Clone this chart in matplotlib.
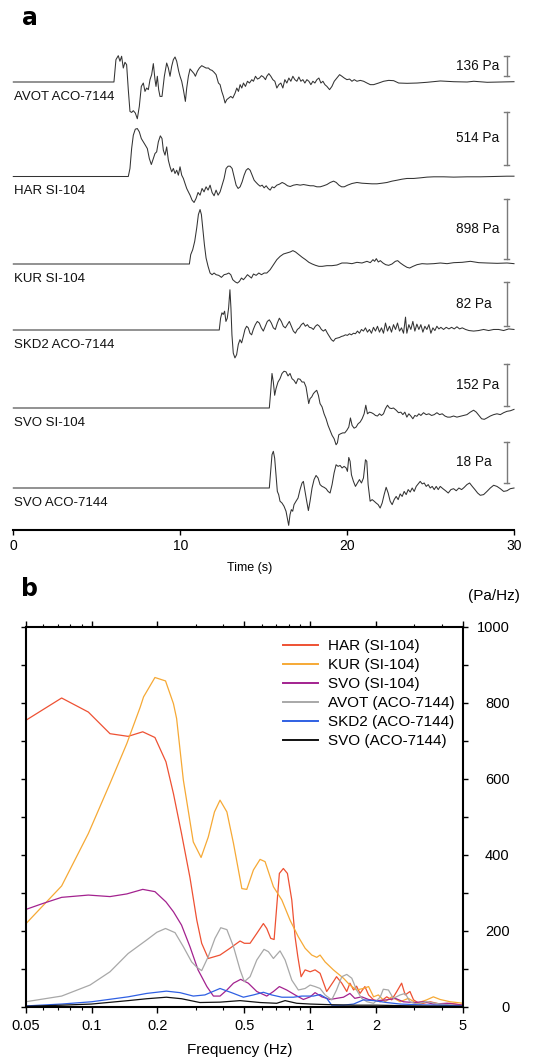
import matplotlib
matplotlib.use("Agg")
import matplotlib.pyplot as plt
from matplotlib.ticker import FixedLocator, NullFormatter

plt.rcParams['font.family'] = ['Liberation Sans', 'DejaVu Sans']

# ---------------- Panel a : pressure waveforms (time s, pressure Pa) ----------------
trace_names = ['AVOT ACO-7144', 'HAR SI-104', 'KUR SI-104', 'SKD2 ACO-7144', 'SVO SI-104', 'SVO ACO-7144']
scale_pa = [136, 514, 898, 82, 152, 18]

avot = [(0, 0), (6.03, 0), (6.15, 152), (6.29, 179), (6.39, 141), (6.49, 175), (6.59, 95), (6.69, 134), (6.79, 118),
        (6.89, -52), (6.99, -200), (7.09, -207), (7.19, -195), (7.31, -211), (7.43, -250), (7.55, -166), (7.67, -30),
        (7.79, -7), (7.89, -64), (7.99, -41), (8.09, -52), (8.19, 16), (8.29, 50), (8.39, 125), (8.49, 16), (8.55, -30),
        (8.63, 39), (8.71, -52), (8.79, -98), (8.91, -98), (9.05, 39), (9.19, 129), (9.29, 95), (9.39, 39), (9.49, 107),
        (9.59, 152), (9.69, 170), (9.79, 141), (9.91, 73), (9.99, 39), (10.09, 5), (10.19, -52), (10.31, -132),
        (10.39, -41), (10.49, 39), (10.59, 89), (10.71, 73), (10.83, 57), (10.91, 39), (11.03, 73), (11.15, 95),
        (11.29, 111), (11.43, 102), (11.55, 95), (11.69, 95), (11.79, 84), (11.91, 79), (12.03, 66), (12.15, 50),
        (12.29, -7), (12.39, -18), (12.49, -64), (12.59, -98), (12.69, -143), (12.79, -120), (12.91, -109),
        (13.03, -98), (13.15, -109), (13.29, -75), (13.39, -41), (13.49, -64), (13.59, -18), (13.69, -41), (13.79, -7),
        (13.91, -30), (14.03, 5), (14.15, -7), (14.29, 16), (14.39, 5), (14.51, 39), (14.63, 20), (14.75, 27),
        (14.87, 43), (14.99, 34), (15.11, 16), (15.19, 39), (15.31, 57), (15.43, 39), (15.55, 16), (15.67, 5),
        (15.79, -41), (15.91, -18), (16.03, -7), (16.15, -41), (16.27, 16), (16.39, -7), (16.51, 27), (16.63, 5),
        (16.75, 39), (16.87, 16), (16.99, 5), (17.11, 34), (17.23, 5), (17.35, 16), (17.47, -7), (17.59, 16),
        (17.71, 5), (17.83, -18), (17.95, 5), (18.07, -7), (18.19, 16), (18.31, 27), (18.43, -7), (18.55, 5),
        (18.67, -18), (18.79, -30), (18.95, -52), (19.09, -30), (19.23, 5), (19.39, 27), (19.55, 50), (19.69, 39),
        (19.83, 27), (19.99, 16), (20.15, 20), (20.29, 5), (20.43, 16), (20.59, 5), (20.79, 11), (20.99, 5),
        (21.19, -7), (21.39, -18), (21.59, -18), (21.89, -7), (22.19, 5), (22.49, 11), (22.79, 9), (23.09, -7),
        (23.59, -9), (24.19, -7), (24.79, -2), (25.59, 7), (26.39, 2), (27.19, 0), (27.59, 5), (28.39, -2),
        (29.19, 0), (30.0, 2)]

har = [(0, 0), (6.89, 0), (6.99, 78), (7.09, 271), (7.19, 400), (7.31, 459), (7.43, 465), (7.55, 433), (7.67, 368),
       (7.79, 336), (7.91, 304), (8.03, 271), (8.15, 174), (8.27, 116), (8.39, 174), (8.49, 223), (8.59, 239),
       (8.69, 336), (8.81, 394), (8.91, 368), (8.99, 255), (9.09, 207), (9.19, 287), (9.29, 158), (9.39, 94),
       (9.49, 45), (9.59, 78), (9.69, 29), (9.79, 61), (9.89, 13), (9.99, 94), (10.09, 13), (10.19, -19),
       (10.29, -68), (10.39, -116), (10.49, -149), (10.59, -181), (10.71, -229), (10.83, -252), (10.95, -213),
       (11.07, -155), (11.19, -181), (11.31, -116), (11.43, -149), (11.55, -100), (11.67, -132), (11.79, -84),
       (11.91, -155), (12.03, -187), (12.15, -132), (12.27, -181), (12.39, -149), (12.51, -84), (12.63, -19),
       (12.75, 78), (12.87, 100), (12.99, 100), (13.11, 78), (13.23, -3), (13.35, -84), (13.47, -116), (13.59, -100),
       (13.71, -52), (13.83, 13), (13.95, 61), (14.07, 78), (14.19, 61), (14.31, 13), (14.43, -36), (14.55, -58),
       (14.67, -78), (14.79, -94), (14.91, -84), (15.03, -110), (15.15, -90), (15.27, -116), (15.39, -132),
       (15.51, -100), (15.63, -110), (15.79, -84), (15.95, -74), (16.11, -58), (16.27, -71), (16.43, -90),
       (16.59, -97), (16.79, -84), (16.99, -78), (17.19, -84), (17.39, -78), (17.59, -84), (17.79, -90),
       (17.99, -90), (18.19, -100), (18.39, -100), (18.59, -90), (18.79, -78), (18.99, -58), (19.19, -45),
       (19.35, -58), (19.51, -84), (19.67, -100), (19.83, -100), (20.03, -84), (20.29, -68), (20.59, -58),
       (20.89, -65), (21.19, -68), (21.49, -71), (21.79, -71), (22.09, -65), (22.39, -58), (22.69, -45),
       (22.99, -36), (23.29, -26), (23.59, -19), (23.99, -19), (24.39, -13), (24.79, -6), (25.19, -3), (25.79, -3),
       (26.39, -6), (27.19, -3), (27.99, -3), (28.79, 0), (29.59, 3), (30.0, 3)]

kur = [(0, 0), (10.55, 0), (10.63, 140), (10.75, 215), (10.87, 340), (10.99, 540), (11.09, 740), (11.19, 815),
       (11.27, 740), (11.35, 540), (11.45, 290), (11.55, 90), (11.67, -35), (11.79, -135), (11.91, -160),
       (12.03, -135), (12.15, -160), (12.31, -170), (12.47, -200), (12.63, -160), (12.79, -150), (12.91, -135),
       (13.03, -160), (13.15, -235), (13.31, -270), (13.43, -285), (13.55, -260), (13.67, -210), (13.79, -235),
       (13.91, -200), (14.03, -160), (14.15, -185), (14.27, -210), (14.39, -150), (14.55, -170), (14.71, -135),
       (14.87, -160), (15.03, -135), (15.19, -135), (15.39, -85), (15.59, -10), (15.79, 65), (15.99, 115),
       (16.19, 150), (16.39, 165), (16.59, 180), (16.75, 200), (16.91, 180), (17.11, 140), (17.31, 100),
       (17.51, 65), (17.71, 25), (17.91, 0), (18.11, -20), (18.31, -35), (18.51, -35), (18.79, -25), (19.09, -25),
       (19.39, -15), (19.69, 15), (19.99, 15), (20.29, 5), (20.59, 25), (20.89, 15), (21.19, 40), (21.39, 20),
       (21.55, 65), (21.65, 40), (21.75, 80), (21.87, 30), (21.99, 50), (22.15, 15), (22.31, -10), (22.49, -20),
       (22.69, 0), (22.89, 40), (23.03, 50), (23.19, 15), (23.39, -20), (23.59, -50), (23.75, -60), (23.95, -35),
       (24.19, -10), (24.49, 5), (24.79, 0), (25.19, 5), (25.59, 15), (25.99, 5), (26.39, 20), (26.89, 25),
       (27.39, 40), (27.89, 20), (28.39, 15), (28.99, 10), (29.59, 15), (30.0, 5)]

skd2 = [(0, 0), (12.34, 0), (12.42, 22), (12.50, 32), (12.58, 29), (12.66, 35), (12.74, 16), (12.82, 22),
        (12.90, 41), (12.98, 75), (13.04, 41), (13.10, -9), (13.18, -43), (13.28, -52), (13.38, -46), (13.48, -27),
        (13.58, -18), (13.68, -24), (13.78, -12), (13.88, 1), (13.98, 7), (14.08, 4), (14.18, -6), (14.28, -9),
        (14.38, 1), (14.50, 10), (14.62, 16), (14.74, 13), (14.86, 4), (14.98, -2), (15.10, 7), (15.22, 16),
        (15.34, 19), (15.46, 13), (15.58, 4), (15.70, 1), (15.82, 13), (15.94, 22), (16.06, 16), (16.18, 7),
        (16.30, 4), (16.42, 10), (16.54, 16), (16.66, 7), (16.78, -2), (16.90, -6), (17.02, 1), (17.14, 4),
        (17.26, 10), (17.38, 13), (17.50, 7), (17.62, 10), (17.74, 5), (17.86, 4), (17.98, 1), (18.10, 7),
        (18.22, 10), (18.34, 7), (18.46, 1), (18.58, -2), (18.70, 1), (18.82, -6), (18.94, -12), (19.06, -18),
        (19.18, -21), (19.30, -16), (19.42, -15), (19.54, -14), (19.66, -12), (19.78, -11), (19.90, -9),
        (20.02, -10), (20.14, -7), (20.26, -9), (20.38, -6), (20.50, -7), (20.62, -2), (20.74, -6), (20.86, 1),
        (20.98, -2), (21.10, 4), (21.22, -4), (21.34, 1), (21.46, -6), (21.58, 5), (21.70, -2), (21.82, 7),
        (21.94, -4), (22.06, 4), (22.18, -6), (22.30, 13), (22.42, -2), (22.54, 7), (22.66, -4), (22.78, 10),
        (22.90, 1), (23.02, 13), (23.14, -2), (23.26, 4), (23.38, -6), (23.50, 24), (23.58, -6), (23.70, 10),
        (23.82, 1), (23.94, 16), (24.06, -2), (24.18, 11), (24.30, 1), (24.42, 10), (24.54, -4), (24.66, 7),
        (24.78, 1), (24.90, 10), (25.02, -6), (25.14, 4), (25.26, -1), (25.38, 7), (25.50, 2), (25.62, 5),
        (25.78, 1), (25.94, 5), (26.10, 2), (26.26, 5), (26.42, 2), (26.58, 6), (26.74, 2), (26.90, 4),
        (27.10, 1), (27.30, -1), (27.58, -2), (27.88, -1), (28.18, 1), (28.48, -1), (28.78, 1), (29.08, 1),
        (29.38, -1), (29.68, 2), (30.0, 1)]

svo_si = [(0, 0), (15.34, 0), (15.42, 58), (15.50, 125), (15.58, 94), (15.66, 46), (15.74, 70), (15.86, 94),
          (15.98, 106), (16.10, 125), (16.22, 133), (16.34, 131), (16.46, 116), (16.58, 125), (16.70, 106),
          (16.82, 100), (16.94, 88), (17.06, 106), (17.18, 104), (17.30, 94), (17.42, 94), (17.54, 76), (17.62, 46),
          (17.70, 16), (17.78, 34), (17.88, 40), (17.98, 52), (18.10, 60), (18.18, 64), (18.28, 46), (18.38, 16),
          (18.50, 4), (18.62, -21), (18.74, -39), (18.86, -63), (18.98, -81), (19.10, -99), (19.22, -111),
          (19.34, -133), (19.42, -126), (19.50, -97), (19.62, -93), (19.74, -90), (19.86, -90), (19.98, -81),
          (20.10, -69), (20.20, -36), (20.30, -63), (20.42, -73), (20.54, -69), (20.66, -57), (20.78, -51),
          (20.90, -39), (21.02, -21), (21.12, 10), (21.22, -21), (21.34, -15), (21.46, -17), (21.58, -21),
          (21.70, -27), (21.82, -29), (21.94, -21), (22.06, -27), (22.18, -21), (22.30, -2), (22.42, 10),
          (22.54, 0), (22.66, -2), (22.78, 0), (22.94, -8), (23.08, -17), (23.22, -15), (23.34, -24), (23.46, -15),
          (23.58, -33), (23.70, -21), (23.82, -29), (23.94, -39), (24.06, -27), (24.18, -30), (24.30, -21),
          (24.42, -27), (24.58, -17), (24.74, -24), (24.90, -21), (25.06, -27), (25.22, -24), (25.38, -17),
          (25.54, -24), (25.70, -21), (25.86, -29), (26.02, -33), (26.18, -33), (26.38, -29), (26.58, -33),
          (26.78, -30), (26.98, -27), (27.18, -24), (27.38, -15), (27.58, -8), (27.74, -15), (27.90, -27),
          (28.06, -39), (28.22, -41), (28.38, -36), (28.58, -29), (28.78, -24), (28.98, -21), (29.18, -24),
          (29.38, -17), (29.58, -12), (29.78, -10), (30.0, -5)]

svo_aco = [(0, 0), (15.34, 0), (15.42, 7.3), (15.50, 14.6), (15.58, 16.1), (15.66, 13.1), (15.74, 5.8),
           (15.82, -1.5), (15.90, -2.9), (15.98, -5.8), (16.10, -6.6), (16.22, -8.0), (16.34, -10.2),
           (16.50, -16.4), (16.58, -11.7), (16.66, -9.5), (16.74, -10.2), (16.82, -7.3), (16.94, -5.8),
           (17.06, -4.4), (17.18, -0.7), (17.30, 2.2), (17.38, 2.9), (17.48, -1.5), (17.58, -5.8), (17.68, -9.9),
           (17.78, -5.8), (17.90, 0), (18.02, 3.7), (18.14, 5.5), (18.26, 4.4), (18.38, 1.5), (18.50, 0.7),
           (18.62, 0.3), (18.74, -0.3), (18.86, -1.5), (18.98, -2.2), (19.10, 1.5), (19.22, 6.6), (19.34, 10.2),
           (19.46, 9.5), (19.58, 9.9), (19.70, 8.8), (19.82, 9.5), (19.94, 8.8), (20.02, 7.3), (20.10, 13.4),
           (20.18, 11.7), (20.26, 5.8), (20.38, 2.9), (20.50, 0.7), (20.62, 2.2), (20.74, 3.7), (20.86, 2.2),
           (20.98, 4.4), (21.10, 12.4), (21.18, 11.7), (21.26, 1.5), (21.38, -5.8), (21.50, -5.1), (21.62, -5.8),
           (21.74, -6.6), (21.86, -7.3), (21.98, -8.8), (22.10, -6.6), (22.22, -2.9), (22.34, 0.3), (22.46, -2.2),
           (22.58, -5.8), (22.70, -7.3), (22.82, -5.1), (22.94, -3.7), (23.06, -5.1), (23.18, -2.6), (23.30, -3.7),
           (23.42, -1.5), (23.54, -2.9), (23.66, -0.7), (23.78, -1.8), (23.90, 0), (24.02, -1.5), (24.14, 0.7),
           (24.26, 1.8), (24.38, 2.9), (24.50, 1.8), (24.62, 2.2), (24.74, 0.7), (24.86, 1.5), (24.98, 0),
           (25.10, 0.7), (25.22, -0.7), (25.34, 0.7), (25.46, -0.7), (25.58, 0.7), (25.74, -0.3), (25.90, -1.2),
           (26.06, -2.2), (26.22, -0.7), (26.38, -0.3), (26.54, -1.2), (26.70, 0), (26.86, -0.7), (27.02, 0.3),
           (27.18, 1.5), (27.34, 2.2), (27.50, 0.7), (27.66, -0.7), (27.82, -2.2), (27.98, -3.2), (28.18, -2.9),
           (28.38, -1.5), (28.58, 0), (28.78, 1.2), (28.98, 0.7), (29.18, -0.3), (29.38, -1.5), (29.58, -1.2),
           (29.78, -0.3), (30.0, 0)]

waveforms = [avot, har, kur, skd2, svo_si, svo_aco]

# ---------------- Panel b : amplitude spectra (Hz, Pa/Hz) ----------------
spec_labels = ['HAR (SI-104)', 'KUR (SI-104)', 'SVO (SI-104)', 'AVOT (ACO-7144)', 'SKD2 (ACO-7144)', 'SVO (ACO-7144)']

har_f = [0.05, 0.073, 0.0967, 0.1215, 0.147, 0.1715, 0.195, 0.219, 0.237, 0.258, 0.282, 0.303, 0.319, 0.342, 0.387,
         0.430, 0.478, 0.50, 0.531, 0.570, 0.611, 0.633, 0.660, 0.684, 0.723, 0.754, 0.787, 0.824, 0.853, 0.878,
         0.909, 0.948, 1.0, 1.053, 1.11, 1.19, 1.233, 1.277, 1.32, 1.395, 1.47, 1.52, 1.58, 1.63, 1.69, 1.78, 1.85,
         1.95, 2.09, 2.24, 2.36, 2.49, 2.62, 2.72, 2.86, 2.97, 3.18, 3.54, 3.93, 4.37, 5.0]
har_a = [754, 813, 776, 719, 712, 724, 709, 645, 561, 456, 340, 228, 167, 127, 136, 154, 173, 167, 167, 193, 219, 206,
         180, 177, 351, 364, 351, 281, 184, 132, 79, 97, 92, 97, 88, 40, 53, 66, 79, 62, 40, 62, 44, 54, 35, 53, 31,
         18, 13, 26, 18, 40, 62, 31, 40, 18, 7, 13, 7, 9, 4]

kur_f = [0.05, 0.073, 0.0967, 0.1215, 0.145, 0.167, 0.173, 0.195, 0.218, 0.237, 0.245, 0.263, 0.292, 0.317, 0.342,
         0.365, 0.387, 0.416, 0.446, 0.487, 0.513, 0.550, 0.590, 0.622, 0.679, 0.742, 0.809, 0.883, 0.948, 1.017,
         1.072, 1.11, 1.17, 1.277, 1.42, 1.52, 1.63, 1.75, 1.85, 1.95, 2.05, 2.20, 2.36, 2.58, 2.81, 3.07, 3.41,
         3.66, 3.93, 4.37, 4.68, 5.0]
kur_a = [218, 318, 456, 588, 693, 789, 816, 867, 858, 798, 759, 597, 434, 393, 447, 513, 544, 513, 430, 311, 309,
         360, 388, 382, 316, 281, 228, 184, 154, 136, 130, 136, 118, 97, 75, 57, 44, 48, 53, 26, 31, 13, 26, 13, 22,
         9, 18, 26, 19, 13, 11, 9]

svo_f = [0.05, 0.06, 0.073, 0.0967, 0.1215, 0.145, 0.1715, 0.195, 0.219, 0.237, 0.258, 0.282, 0.307, 0.337, 0.361,
         0.387, 0.416, 0.446, 0.481, 0.521, 0.570, 0.633, 0.679, 0.723, 0.781, 0.853, 0.931, 1.0, 1.053, 1.13, 1.233,
         1.32, 1.42, 1.52, 1.60, 1.72, 1.85, 2.02, 2.24, 2.45, 2.67, 2.97, 3.30, 3.66, 4.22, 5.0]
svo_a = [256, 272, 288, 294, 290, 297, 309, 303, 276, 250, 215, 158, 97, 53, 28, 28, 44, 62, 72, 62, 40, 28, 40, 53,
         44, 31, 19, 26, 37, 26, 19, 22, 25, 35, 22, 26, 19, 16, 18, 22, 13, 11, 13, 7, 9, 4]

avot_f = [0.05, 0.073, 0.0984, 0.1215, 0.147, 0.179, 0.199, 0.218, 0.241, 0.263, 0.287, 0.303, 0.319, 0.342, 0.367,
          0.39, 0.416, 0.446, 0.478, 0.50, 0.531, 0.570, 0.615, 0.644, 0.679, 0.728, 0.768, 0.824, 0.883, 0.948, 1.0,
          1.053, 1.11, 1.17, 1.255, 1.32, 1.395, 1.47, 1.55, 1.63, 1.72, 1.82, 1.95, 2.09, 2.16, 2.28, 2.40, 2.58,
          2.72, 2.86, 3.07, 3.41, 3.93, 5.0]
avot_a = [13, 28, 57, 92, 140, 176, 196, 206, 195, 158, 118, 104, 95, 132, 180, 208, 203, 158, 97, 66, 79, 123, 151,
          145, 127, 147, 123, 70, 44, 48, 57, 53, 48, 31, 18, 44, 79, 85, 75, 44, 22, 13, 9, 25, 46, 44, 22, 31, 35,
          13, 7, 13, 7, 2]

skd_f = [0.05, 0.073, 0.1, 0.147, 0.179, 0.22, 0.254, 0.292, 0.330, 0.387, 0.437, 0.495, 0.55, 0.611, 0.667, 0.742,
         0.838, 0.916, 1.035, 1.11, 1.19, 1.255, 1.42, 1.58, 1.75, 1.95, 2.24, 2.58, 3.18, 3.93, 5.0]
skd_a = [2, 7, 13, 26, 35, 41, 37, 28, 31, 48, 37, 25, 31, 38, 31, 25, 25, 28, 28, 32, 22, 4, 4, 7, 18, 16, 11, 7, 5,
         4, 2]

svoaco_f = [0.05, 0.073, 0.1, 0.147, 0.179, 0.22, 0.258, 0.313, 0.387, 0.478, 0.59, 0.703, 0.768, 0.868, 1.0, 1.277,
            1.58, 2.02, 3.07, 5.0]
svoaco_a = [1, 4, 7, 16, 21, 25, 21, 11, 12, 16, 11, 9, 16, 9, 7, 5, 4, 4, 2, 1]

spectra = [(har_f, har_a), (kur_f, kur_a), (svo_f, svo_a), (avot_f, avot_a), (skd_f, skd_a), (svoaco_f, svoaco_a)]
spec_colors = ['#ee5133', '#f6a935', '#a3228f', '#a8a8a8', '#2f60e3', '#111111']

freq_ticks = [0.05, 0.1, 0.2, 0.5, 1, 2, 5]
freq_ticklabels = ['0.05', '0.1', '0.2', '0.5', '1', '2', '5']
freq_minor = [0.06, 0.07, 0.08, 0.09, 0.3, 0.4, 0.6, 0.7, 0.8, 0.9, 3, 4]
amp_ticks = [0, 200, 400, 600, 800, 1000]

# ---------------- layout (pixel units of the 544x1059 figure) ----------------
W, H = 544, 1059
fig = plt.figure(figsize=(W / 100, H / 100), dpi=100)

def fx(px):
    return px / W

def fy(py):
    return 1 - py / H

# panel a axes: y data = pixel rows
a_left, a_right, a_top, a_bot = 13.3, 514.0, 30.0, 530.0
axa = fig.add_axes([fx(a_left), fy(a_bot), (a_right - a_left) / W, (a_bot - a_top) / H])
axa.set_xlim(0, 30)
axa.set_ylim(a_bot, a_top)
for s in ['left', 'right', 'top']:
    axa.spines[s].set_visible(False)
axa.spines['bottom'].set_linewidth(1.5)
axa.set_yticks([])
axa.set_xticks([0, 10, 20, 30])
axa.tick_params(axis='x', direction='out', length=3.6, width=1.0, labelsize=10, pad=3.0)

baseline_px = [82, 176.5, 264, 330, 408, 488]
gain_px = [20 / 136, 53 / 514, 60 / 898, 44 / 82, 42 / 152, 41 / 18]
bar_bottom_px = [76, 165, 259, 326, 406, 483]
bar_t = 29.56
cap_half = 0.15
label_t = 0.05
scale_label_t = 26.5

for name, wf, base, g, bb, pa in zip(trace_names, waveforms, baseline_px, gain_px, bar_bottom_px, scale_pa):
    t = [p[0] for p in wf]
    v = [base - p[1] * g for p in wf]
    axa.plot(t, v, color='#333333', lw=0.75, solid_joinstyle='round', clip_on=False)
    axa.text(label_t, base + 15, name, ha='left', va='center', fontsize=9.5, color='#111111')
    top = bb - pa * g
    axa.plot([bar_t, bar_t], [bb, top], color='#7a7a7a', lw=1.0)
    axa.plot([bar_t - cap_half, bar_t + cap_half], [bb, bb], color='#7a7a7a', lw=1.0)
    axa.plot([bar_t - cap_half, bar_t + cap_half], [top, top], color='#7a7a7a', lw=1.0)
    axa.text(scale_label_t, (bb + top) / 2, f'{pa} Pa', ha='left', va='center', fontsize=9.8, color='#111111')

fig.text(fx(250), fy(568), 'Time (s)', ha='center', va='center', fontsize=9)
fig.text(fx(22), fy(25), 'a', ha='left', va='baseline', fontsize=17, fontweight='bold', family='DejaVu Sans')

# panel b axes
b_left, b_right, b_top, b_bot = 25.7, 463.0, 627.0, 1006.7
axb = fig.add_axes([fx(b_left), fy(b_bot), (b_right - b_left) / W, (b_bot - b_top) / H])
for (f, a), c, lab in zip(spectra, spec_colors, spec_labels):
    axb.plot(f, a, color=c, lw=0.9, label=lab)
axb.set_xscale('log')
axb.set_xlim(0.05, 5)
axb.set_ylim(0, 1000)
axb.xaxis.set_major_locator(FixedLocator(freq_ticks))
axb.set_xticklabels(freq_ticklabels)
axb.xaxis.set_minor_locator(FixedLocator(freq_minor))
axb.xaxis.set_minor_formatter(NullFormatter())
axb.yaxis.set_major_locator(FixedLocator(amp_ticks))
axb.yaxis.set_minor_locator(FixedLocator([100, 300, 500, 700, 900]))
for s in axb.spines.values():
    s.set_linewidth(1.5)
axb.tick_params(axis='x', which='major', direction='out', top=True, bottom=True, length=4.0, width=1.0,
                labelsize=10.5, pad=4.5)
axb.tick_params(axis='x', which='minor', direction='out', top=True, bottom=True, length=2.2, width=0.8)
axb.tick_params(axis='y', which='both', direction='out', left=True, right=True, labelleft=False,
                labelright=True, length=3.6, width=1.0, labelsize=10.5, pad=30)
for lbl in axb.get_yticklabels():
    lbl.set_horizontalalignment('right')

leg = axb.legend(loc='upper left', bbox_to_anchor=(fx(283), fy(639)), bbox_transform=fig.transFigure,
                 frameon=False, fontsize=11, handlelength=2.3, handletextpad=0.65, labelspacing=0.33,
                 borderpad=0, borderaxespad=0)
for line in leg.get_lines():
    line.set_linewidth(1.4)

fig.text(fx(520), fy(596), '(Pa/Hz)', ha='right', va='center', fontsize=11)
fig.text(fx(239.5), fy(1050), 'Frequency (Hz)', ha='center', va='center', fontsize=11)
fig.text(fx(21), fy(596), 'b', ha='left', va='baseline', fontsize=17, fontweight='bold', family='DejaVu Sans')

fig.savefig('out.png', dpi=100)
